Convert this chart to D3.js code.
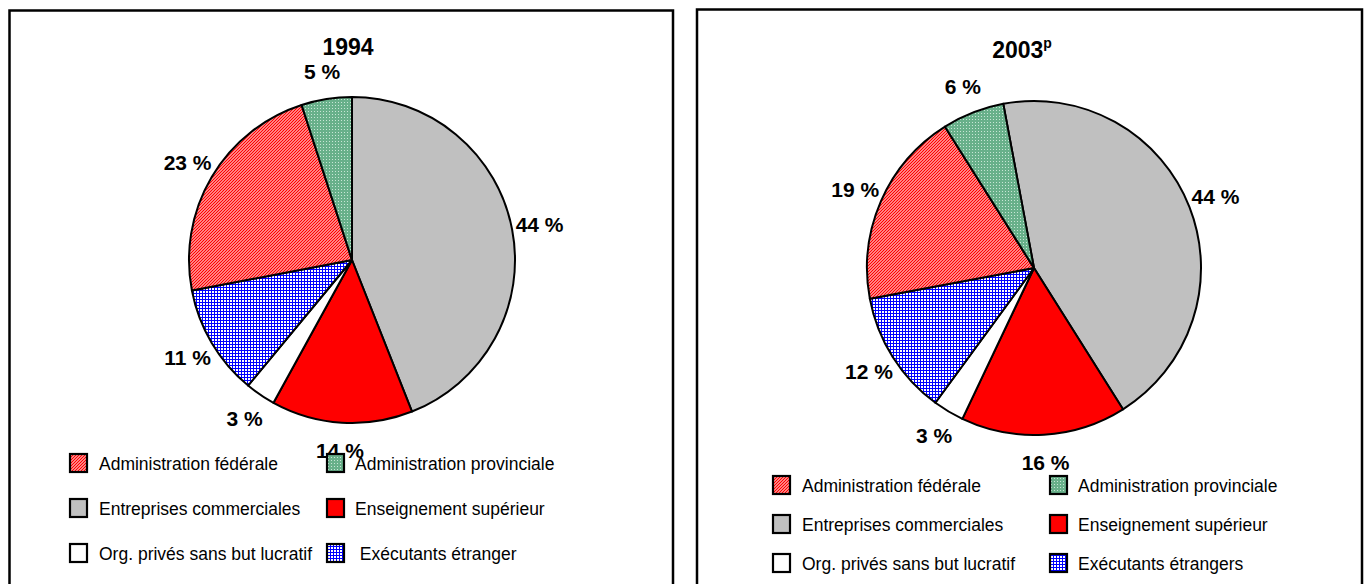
<!DOCTYPE html>
<html><head><meta charset="utf-8">
<script src="https://cdn.jsdelivr.net/npm/d3@7"></script>
<style>body{margin:0;background:#fff}svg{display:block}text{font-family:Arial,"Liberation Sans",sans-serif}</style>
</head><body>
<svg id="c" width="1364" height="584"></svg>
<script>
// ---- data ----
const categories = ["Entreprises commerciales","Enseignement supérieur","Org. privés sans but lucratif","Exécutants étrangers","Administration fédérale","Administration provinciale"];
const keys = ["ent","ens","org","exe","fed","prov"];
const values1994 = [44,14,3,11,23,5];
const values2003 = [44,16,3,12,19,6];
const titles = ["1994","2003"];
const titleSup = ["","p"];
const legendOrder = ["fed","prov","ent","ens","org","exe"];
const legendLabels1994 = ["Administration fédérale","Administration provinciale","Entreprises commerciales","Enseignement supérieur","Org. privés sans but lucratif"," Exécutants étranger"];
const legendLabels2003 = ["Administration fédérale","Administration provinciale","Entreprises commerciales","Enseignement supérieur","Org. privés sans but lucratif","Exécutants étrangers"];

const svg = d3.select("#c");
const defs = svg.append("defs");
// patterns
let p = defs.append("pattern").attr("id","pfed").attr("patternUnits","userSpaceOnUse").attr("width",3).attr("height",3);
p.append("rect").attr("width",3).attr("height",3).attr("fill","#fff");
p.append("path").attr("d","M-1,1 l2,-2 M0,3 l3,-3 M2,4 l2,-2").attr("stroke","#f00").attr("stroke-width",1.4);
p = defs.append("pattern").attr("id","pprov").attr("patternUnits","userSpaceOnUse").attr("width",3).attr("height",3);
p.append("rect").attr("width",3).attr("height",3).attr("fill","#68b08a");
p.append("rect").attr("x",1).attr("y",1).attr("width",1).attr("height",1).attr("fill","#c8e6d5");
p = defs.append("pattern").attr("id","pexe").attr("patternUnits","userSpaceOnUse").attr("width",3).attr("height",3);
p.append("rect").attr("width",3).attr("height",3).attr("fill","#fff");
p.append("rect").attr("width",3).attr("height",1).attr("fill","#0000ff");
p.append("rect").attr("width",1).attr("height",3).attr("fill","#0000ff");

const fills = d3.scaleOrdinal().domain(keys).range(["#c0c0c0","#ff0000","#ffffff","url(#pexe)","url(#pfed)","url(#pprov)"]);

const panels = [
  {x:9.5,y:10.5,w:663.5,cx:352,cy:260,r:163,rot:0,tx:348,ty:55,values:values1994,leg:legendLabels1994,lx:[70,327],ltx:[99,355],ly:[463,508,553]},
  {x:697,y:9.5,w:665,cx:1034,cy:268,r:167,rot:-10.6,tx:1022,ty:58,values:values2003,leg:legendLabels2003,lx:[773,1050],ltx:[802,1078],ly:[485,524,563]}
];

panels.forEach((P,i)=>{
  const g = svg.append("g");
  g.append("rect").attr("x",P.x).attr("y",P.y).attr("width",P.w).attr("height",620)
    .attr("fill","none").attr("stroke","#000").attr("stroke-width",2.5);
  const t = g.append("text").attr("x",P.tx).attr("y",P.ty).attr("text-anchor","middle")
    .attr("font-size",23).attr("font-weight","bold").text(titles[i]);
  if (titleSup[i]) t.append("tspan").attr("font-size",14).attr("dy",-10).text(titleSup[i]);

  const data = keys.map((k,j)=>({key:k,value:P.values[j]}));
  const rot = P.rot*Math.PI/180;
  const pie = d3.pie().sort(null).value(d=>d.value).startAngle(rot).endAngle(rot+2*Math.PI);
  const arcs = pie(data);
  const arc = d3.arc().innerRadius(0).outerRadius(P.r);
  const lab = d3.arc().innerRadius(P.r+28).outerRadius(P.r+28);
  const pg = g.append("g").attr("transform",`translate(${P.cx},${P.cy})`);
  pg.selectAll("path").data(arcs).join("path").attr("d",arc)
    .attr("fill",d=>fills(d.data.key)).attr("stroke","#000").attr("stroke-width",2).attr("stroke-linejoin","round");
  pg.selectAll("text").data(arcs).join("text")
    .attr("transform",d=>`translate(${lab.centroid(d)})`)
    .attr("text-anchor","middle").attr("dy","0.36em")
    .attr("font-size",21).attr("font-weight","bold")
    .text(d=>d.data.value+" %");

  // legend
  legendOrder.forEach((k,j)=>{
    const col=j%2,row=Math.floor(j/2);
    const y=P.ly[row];
    g.append("rect").attr("x",P.lx[col]).attr("y",y-9).attr("width",17).attr("height",18)
      .attr("fill",fills(k)).attr("stroke","#000").attr("stroke-width",2.2);
    g.append("text").attr("x",P.ltx[col]).attr("y",y+7).attr("font-size",17.5)
      .style("white-space","pre").text(P.leg[j]);
  });
});
</script>
</body></html>
